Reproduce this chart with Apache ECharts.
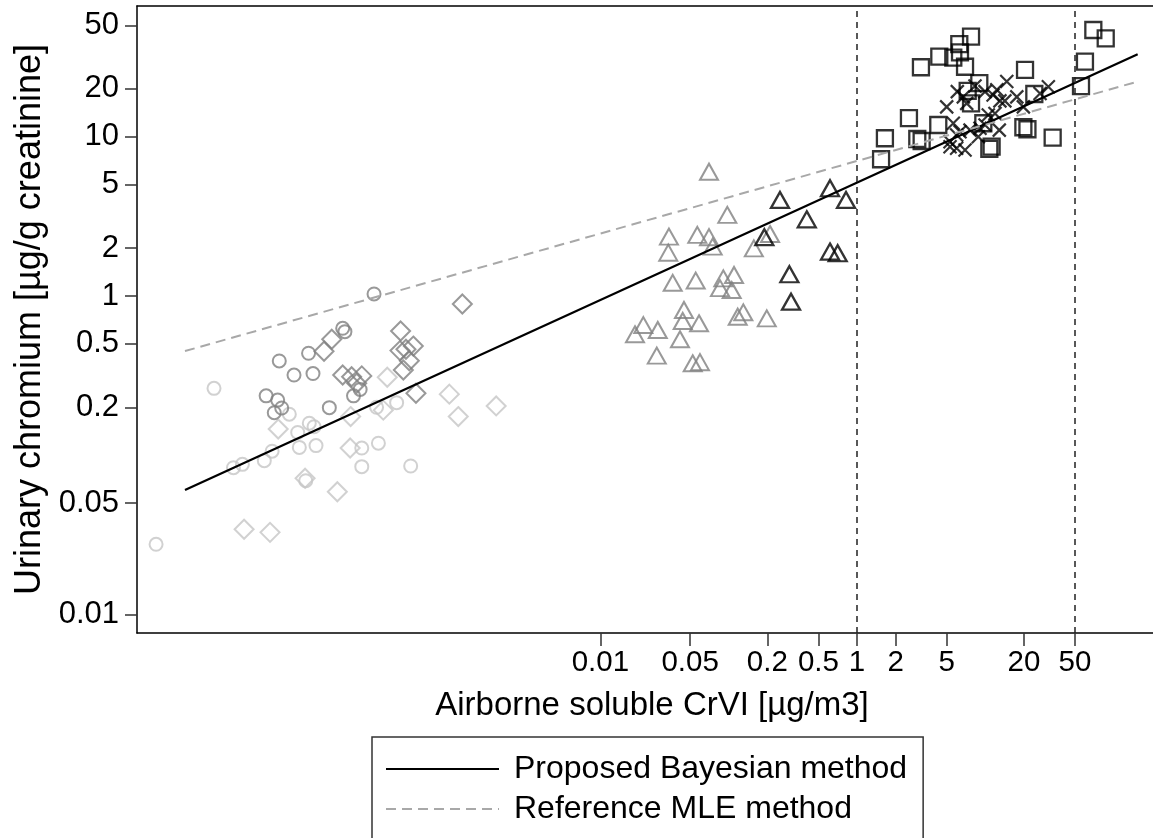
<!DOCTYPE html>
<html><head><meta charset="utf-8">
<script src="https://cdn.jsdelivr.net/npm/echarts@6/dist/echarts.min.js"></script>
<style>html,body{margin:0;padding:0;background:#fff}#c{width:1153px;height:838px}</style>
</head><body><div id="c"></div>
<script>
const xTickValues = [0.01,0.05,0.2,0.5,1,2,5,20,50];
const yTickValues = [0.01,0.05,0.2,0.5,1,2,5,10,20,50];
const refLines = [1, 50];
const xTitle = 'Airborne soluble CrVI [µg/m3]';
const yTitle = 'Urinary chromium [µg/g creatinine]';
const legendNames = ['Proposed Bayesian method', 'Reference MLE method'];

const lightCircles = [[3.44e-6,0.0276],[9.73e-6,0.263],[1.38e-5,0.0835],[1.62e-5,0.0877],[2.40e-5,0.0925],[2.76e-5,0.106],[3.76e-5,0.181],[4.37e-5,0.139],[4.50e-5,0.112],[5.38e-5,0.159],[5.86e-5,0.151],[6.07e-5,0.115],[5.05e-5,0.0692],[1.80e-4,0.200],[2.58e-4,0.214],[1.38e-4,0.111],[1.86e-4,0.119],[1.38e-4,0.0848],[3.32e-4,0.0856]];
const lightDiamonds = [[3.08e-5,0.146],[4.99e-5,0.0717],[1.67e-5,0.0343],[2.66e-5,0.0328],[8.90e-5,0.0590],[2.18e-4,0.309],[1.13e-4,0.175],[2.03e-4,0.192],[6.64e-4,0.242],[7.80e-4,0.175],[1.54e-3,0.204],[1.12e-4,0.111]];
const darkCircles = [[3.14e-5,0.391],[4.09e-5,0.319],[5.31e-5,0.437],[5.75e-5,0.326],[2.48e-5,0.236],[3.05e-5,0.222],[2.87e-5,0.185],[3.28e-5,0.198],[7.71e-5,0.199],[1.72e-4,1.03],[9.80e-5,0.627],[1.02e-4,0.597],[1.19e-4,0.236],[1.34e-4,0.259]];
const darkDiamonds = [[7.01e-5,0.450],[8.05e-5,0.535],[9.80e-5,0.319],[1.15e-4,0.311],[1.38e-4,0.315],[1.26e-4,0.283],[2.77e-4,0.603],[2.74e-4,0.454],[3.48e-4,0.485],[3.05e-4,0.463],[3.24e-4,0.392],[2.91e-4,0.343],[3.65e-4,0.245],[8.39e-4,0.891]];
const greyTriangles = [[0.0702,6.03],[0.0975,3.23],[0.0342,2.36],[0.0338,1.87],[0.0569,2.42],[0.0702,2.34],[0.0750,2.04],[0.157,1.99],[0.210,2.45],[0.0366,1.21],[0.0553,1.25],[0.0908,1.29],[0.110,1.355],[0.0855,1.12],[0.1055,1.09],[0.0448,0.817],[0.0438,0.697],[0.0587,0.674],[0.0216,0.657],[0.0280,0.612],[0.0186,0.575],[0.0417,0.535],[0.130,0.790],[0.1175,0.741],[0.198,0.724],[0.0275,0.422],[0.0524,0.378],[0.0597,0.384]];
const blackTriangles = [[0.251,4.01],[0.616,4.75],[0.821,4.01],[0.406,3.03],[0.1895,2.34],[0.616,1.90],[0.707,1.855],[0.297,1.37],[0.306,0.921]];
const squares = [[7.74,42.5],[6.27,38.1],[6.35,33.9],[4.38,31.8],[5.63,31.4],[6.95,27.5],[3.15,27.3],[8.98,21.7],[7.29,19.4],[7.74,16.2],[2.54,13.1],[4.30,11.85],[1.65,9.78],[2.95,9.68],[3.19,9.40],[1.54,7.22],[9.65,12.15],[11.2,8.66],[10.75,8.38],[69.5,46.8],[86.8,41.5],[59.8,29.6],[55.7,20.8],[20.4,26.3],[24.1,18.55],[19.8,11.47],[21.3,11.14],[33.5,9.86]];
const crosses = [[14.7,22.2],[8.31,20.8],[6.05,19.2],[6.74,17.8],[9.95,19.2],[11.5,18.3],[13.0,16.8],[14.2,16.8],[5.00,15.4],[7.16,16.2],[10.55,13.7],[11.9,14.0],[5.63,12.15],[6.35,10.75],[7.60,11.0],[5.98,10.25],[9.09,11.3],[9.95,11.85],[12.85,11.0],[8.82,10.0],[5.31,8.66],[5.98,8.46],[6.95,8.26],[5.31,9.31],[17.6,17.8],[19.8,15.4],[26.7,18.7],[31.0,20.6],[12.3,19.7]];
const bayesFit = [[5.78e-6,0.0605],[154,32.9]];
const mleFit = [[5.78e-6,0.451],[154,22.2]];

const FONT = '"Liberation Sans", Arial, Helvetica, sans-serif';
const LIGHT = '#c6c6c6', MID = '#808080', BLACK = '#000';
const crossPath = 'path://M0 0L10 10M10 0L0 10';
const X_MIN = 2.443e-6, X_MAX = 202.8, Y_MIN = 0.007655, Y_MAX = 66.2;

function scat(data, symbol, size, color, bw) {
  return {
    type: 'scatter', data, symbol, symbolSize: size, silent: true,
    itemStyle: {color: 'rgba(0,0,0,0)', borderColor: color, borderWidth: bw || 2},
    emphasis: {disabled: true}
  };
}
const fmt = v => String(+(+v).toPrecision(6));

const chart = echarts.init(document.getElementById('c'), null, {renderer: 'canvas'});
chart.setOption({
  animation: false,
  backgroundColor: '#fff',
  grid: {left: 137, top: 6, right: 0, bottom: 205, show: false, containLabel: false},
  xAxis: [{
    type: 'log', min: X_MIN, max: X_MAX,
    name: xTitle, nameLocation: 'middle', nameGap: 56,
    nameTextStyle: {fontFamily: FONT, fontSize: 33, color: '#000', padding: [0, 0, 0, 14]},
    axisLine: {lineStyle: {color: '#000', width: 1.5}},
    axisTick: {show: true, inside: false, length: 13, customValues: xTickValues, lineStyle: {color: '#333', width: 1.5}},
    axisLabel: {customValues: xTickValues, formatter: fmt, margin: 15, fontFamily: FONT, fontSize: 29.5, color: '#000'},
    splitLine: {show: false}, minorTick: {show: false}
  }, {
    type: 'log', min: X_MIN, max: X_MAX, position: 'top',
    axisLine: {show: true, lineStyle: {color: '#000', width: 1.5}},
    axisTick: {show: false}, axisLabel: {show: false}, splitLine: {show: false}
  }],
  yAxis: {
    type: 'log', min: Y_MIN, max: Y_MAX,
    name: yTitle, nameLocation: 'middle', nameGap: 89, nameRotate: 90,
    nameTextStyle: {fontFamily: FONT, fontSize: 36, color: '#000'},
    axisLine: {lineStyle: {color: '#000', width: 1.5}},
    axisTick: {show: true, inside: false, length: 12, customValues: yTickValues, lineStyle: {color: '#333', width: 1.5}},
    axisLabel: {customValues: yTickValues, formatter: fmt, margin: 18, fontFamily: FONT, fontSize: 31, color: '#000'},
    splitLine: {show: false}, minorTick: {show: false}
  },
  legend: {
    data: legendNames, orient: 'vertical', left: 372, top: 737, height: 90,
    padding: [16, 16, 20, 13], itemGap: 8, itemWidth: 113, itemHeight: 14,
    borderColor: '#333', borderWidth: 1.5, selectedMode: false,
    itemStyle: {opacity: 0, borderWidth: 0},
    textStyle: {fontFamily: FONT, fontSize: 32, color: '#000', padding: [0, 0, 0, 10]}
  },
  series: [
    scat(lightCircles, 'circle', 13, LIGHT),
    scat(lightDiamonds, 'diamond', 19, LIGHT),
    scat(darkCircles, 'circle', 13, MID),
    scat(darkDiamonds, 'diamond', 19, MID),
    scat(greyTriangles, 'triangle', [18, 16], MID),
    scat(blackTriangles, 'triangle', [18, 16], BLACK, 2.3),
    scat(squares, 'rect', 16, BLACK, 2.3),
    scat(crosses, crossPath, 13, BLACK, 2.2),
    {
      name: legendNames[0], type: 'line', data: bayesFit, symbol: 'none', silent: true,
      itemStyle: {color: '#000'},
      lineStyle: {color: '#000', width: 2.2},
      markLine: {
        silent: true, symbol: ['none', 'none'], label: {show: false},
        lineStyle: {color: '#222', width: 1.5, type: [6, 5]},
        data: refLines.map(v => ({xAxis: v}))
      }
    },
    {
      name: legendNames[1], type: 'line', data: mleFit, symbol: 'none', silent: true,
      itemStyle: {color: '#a8a8a8'},
      lineStyle: {color: '#a8a8a8', width: 2, type: [10, 6]}
    }
  ]
});
</script>
</body></html>
